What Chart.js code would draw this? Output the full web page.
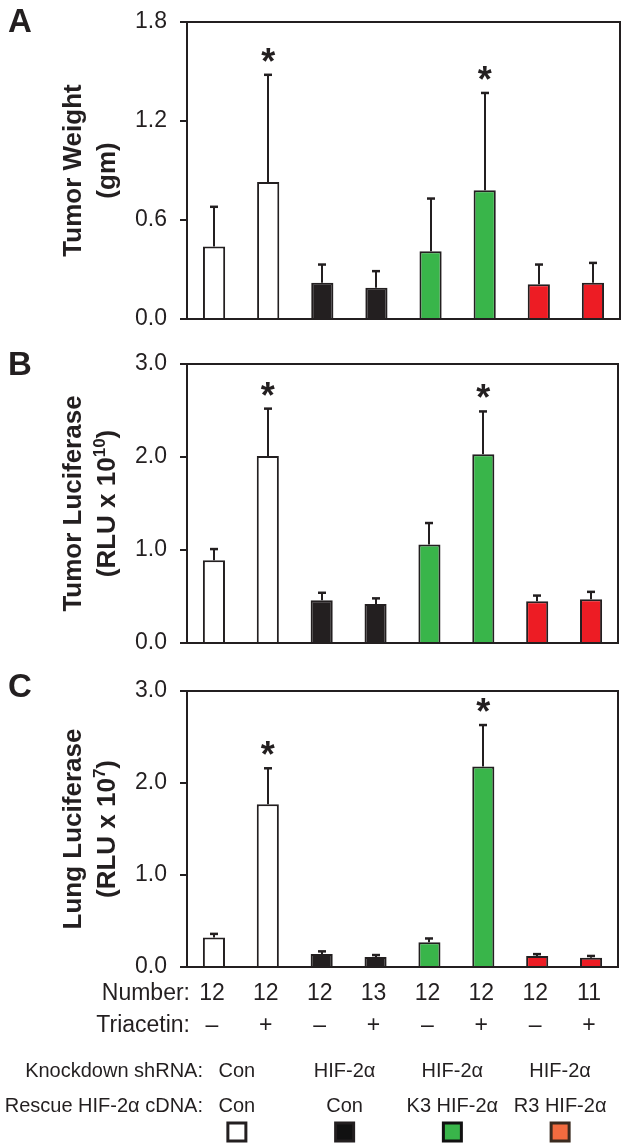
<!DOCTYPE html>
<html>
<head>
<meta charset="utf-8">
<script src="https://cdn.jsdelivr.net/npm/chart.js@4.4.1/dist/chart.umd.min.js"></script>
<style>
body{margin:0;background:#fff;width:625px;height:1147px;overflow:hidden;position:relative;}
canvas{position:absolute;left:0;}
</style>
</head>
<body>
<canvas id="chartA" width="625" height="370" style="top:-10px"></canvas>
<canvas id="chartB" width="625" height="340" style="top:335px"></canvas>
<canvas id="chartC" width="625" height="497" style="top:650px"></canvas>
<script>
// data
const categories = ['Con –','Con +','HIF-2α –','HIF-2α +','K3 –','K3 +','R3 –','R3 +'];
const numbers = ['12','12','12','13','12','12','12','11'];
const triacetin = ['–','+','–','+','–','+','–','+'];
const knockdown = ['Con','HIF-2α','HIF-2α','HIF-2α'];
const rescue = ['Con','Con','K3 HIF-2α','R3 HIF-2α'];
const starred = [1, 5];

const weightMean = [0.44, 0.83, 0.22, 0.19, 0.41, 0.78, 0.21, 0.22];
const weightErr  = [0.24, 0.65, 0.11, 0.10, 0.32, 0.59, 0.12, 0.12];
const weightTicks = [0, 1.8, 0.6];

const tumorLucMean = [0.89, 2.01, 0.46, 0.42, 1.06, 2.03, 0.45, 0.47];
const tumorLucErr  = [0.12, 0.51, 0.08, 0.06, 0.23, 0.46, 0.06, 0.08];
const tumorLucTicks = [0, 3, 1];

const lungLucMean = [0.32, 1.77, 0.14, 0.11, 0.27, 2.18, 0.12, 0.10];
const lungLucErr  = [0.04, 0.39, 0.03, 0.02, 0.04, 0.45, 0.02, 0.02];
const lungLucTicks = [0, 3, 1];

const FONT = '"Liberation Sans", Arial, Helvetica, sans-serif';
const INK = '#231f20';
const barFills = ['#ffffff','#ffffff','#231f20','#231f20','#39b54a','#39b54a','#ed1c24','#ed1c24'];
const swatchFills = ['#ffffff','#111111','#39b54a','#f26b3f'];
const swatchBorders = [INK, INK, '#111111', '#3a2a1f'];

// error bars, frame, stars, panel letter, axis title
const decorations = {
  id: 'decorations',
  afterDatasetsDraw(chart, args, o) {
    const ctx = chart.ctx, ca = chart.chartArea;
    const xs = chart.scales.x, ys = chart.scales.y;
    ctx.save();
    ctx.strokeStyle = INK;
    ctx.fillStyle = INK;
    ctx.lineWidth = 2;
    o.mean.forEach((m, i) => {
      const cx = Math.round(xs.getPixelForValue(i));
      const y0 = ys.getPixelForValue(m);
      const y1 = ys.getPixelForValue(m + o.err[i]);
      ctx.beginPath();
      ctx.moveTo(cx, y0); ctx.lineTo(cx, y1);
      ctx.stroke();
      ctx.lineWidth = 2.5;
      ctx.beginPath();
      ctx.moveTo(cx - 4, y1); ctx.lineTo(cx + 4, y1);
      ctx.stroke();
      ctx.lineWidth = 2;
    });
    ctx.strokeRect(ca.left, ca.top, ca.right - ca.left, ca.bottom - ca.top);

    // significance stars
    ctx.font = 'bold 36px ' + FONT;
    ctx.textAlign = 'center';
    ctx.textBaseline = 'alphabetic';
    const mt = ctx.measureText('*');
    const off = (mt.actualBoundingBoxDescent - mt.actualBoundingBoxAscent) / 2;
    starred.forEach(i => {
      const cx = xs.getPixelForValue(i);
      const top = ys.getPixelForValue(o.mean[i] + o.err[i]);
      ctx.fillText('*', cx, top - 20 - off);
    });

    // panel letter
    ctx.textAlign = 'left';
    ctx.font = 'bold 33px ' + FONT;
    ctx.fillText(o.letter, 8, o.letterY);

    // rotated two-line axis title
    const cy = (ca.top + ca.bottom) / 2;
    ctx.translate(0, cy);
    ctx.rotate(-Math.PI / 2);
    ctx.font = 'bold 26px ' + FONT;
    ctx.textAlign = 'center';
    ctx.fillText(o.title1, 0, 81);
    ctx.textAlign = 'left';
    const parts = o.title2;
    let total = 0;
    parts.forEach(p => {
      ctx.font = (p.sup ? 'bold 17px ' : 'bold 26px ') + FONT;
      p.w = ctx.measureText(p.t).width;
      total += p.w;
    });
    let lx = -total / 2;
    parts.forEach(p => {
      ctx.font = (p.sup ? 'bold 17px ' : 'bold 26px ') + FONT;
      ctx.fillText(p.t, lx, p.sup ? 105 : 115);
      lx += p.w;
    });
    ctx.restore();
  }
};

// the rows under panel C
const tableRows = {
  id: 'tableRows',
  afterDraw(chart, args, o) {
    if (!o.show) return;
    const ctx = chart.ctx, xs = chart.scales.x;
    const px = i => xs.getPixelForValue(i);
    const gx = g => (px(2 * g) + px(2 * g + 1)) / 2 - 4;
    ctx.save();
    ctx.fillStyle = INK;
    ctx.textBaseline = 'middle';
    ctx.font = '23px ' + FONT;
    ctx.textAlign = 'right';
    ctx.fillText('Number:', 190, 344);
    ctx.fillText('Triacetin:', 190, 376);
    ctx.textAlign = 'center';
    numbers.forEach((n, i) => ctx.fillText(n, px(i) - 2, 344));
    triacetin.forEach((t, i) => ctx.fillText(t, px(i) - 2, 376));

    ctx.font = '20px ' + FONT;
    ctx.textAlign = 'right';
    ctx.fillText('Knockdown shRNA:', 203, 421);
    ctx.fillText('Rescue HIF-2α cDNA:', 203, 456);
    ctx.textAlign = 'center';
    knockdown.forEach((t, g) => ctx.fillText(t, gx(g), 421));
    rescue.forEach((t, g) => ctx.fillText(t, gx(g), 456));

    swatchFills.forEach((c, g) => {
      const cx = gx(g), cy = 482;
      ctx.fillStyle = c;
      ctx.fillRect(cx - 9, cy - 9, 18, 18);
      ctx.strokeStyle = swatchBorders[g];
      ctx.lineWidth = 3;
      ctx.strokeRect(cx - 9, cy - 9, 18, 18);
    });
    ctx.restore();
  }
};

function makeChart(id, mean, err, ticks, pad, letter, letterY, title1, title2, table) {
  return new Chart(document.getElementById(id), {
    type: 'bar',
    data: {
      labels: categories,
      datasets: [{
        data: mean,
        backgroundColor: barFills,
        borderColor: INK,
        borderWidth: 2,
        categoryPercentage: 1.0,
        barPercentage: 0.41
      }]
    },
    options: {
      responsive: false,
      animation: false,
      layout: { padding: pad },
      plugins: {
        legend: { display: false },
        tooltip: { enabled: false },
        decorations: { mean, err, letter, letterY, title1, title2 },
        tableRows: { show: table }
      },
      scales: {
        x: { display: false },
        y: {
          min: ticks[0], max: ticks[1],
          afterFit: s => { s.width = 187; },
          ticks: {
            stepSize: ticks[2],
            padding: 13,
            color: INK,
            font: { family: FONT, size: 23 },
            callback: v => Number(v).toFixed(1)
          },
          grid: { drawOnChartArea: false, drawTicks: true, tickLength: 7, color: INK, lineWidth: 2 },
          border: { display: true, color: INK, width: 2 }
        }
      }
    },
    plugins: [decorations, tableRows]
  });
}

// canvas A sits at y=-10, B at 335, C at 650
makeChart('chartA', weightMean, weightErr, weightTicks,
  { top: 32, bottom: 41, right: 5, left: 0 }, 'A', 42,
  'Tumor Weight', [{ t: '(gm)' }], false);

makeChart('chartB', tumorLucMean, tumorLucErr, tumorLucTicks,
  { top: 29, bottom: 32, right: 7, left: 0 }, 'B', 40,
  'Tumor Luciferase', [{ t: '(RLU x 10' }, { t: '10', sup: true }, { t: ')' }], false);

makeChart('chartC', lungLucMean, lungLucErr, lungLucTicks,
  { top: 41, bottom: 180, right: 7, left: 0 }, 'C', 47,
  'Lung Luciferase', [{ t: '(RLU x 10' }, { t: '7', sup: true }, { t: ')' }], true);
</script>
</body>
</html>
